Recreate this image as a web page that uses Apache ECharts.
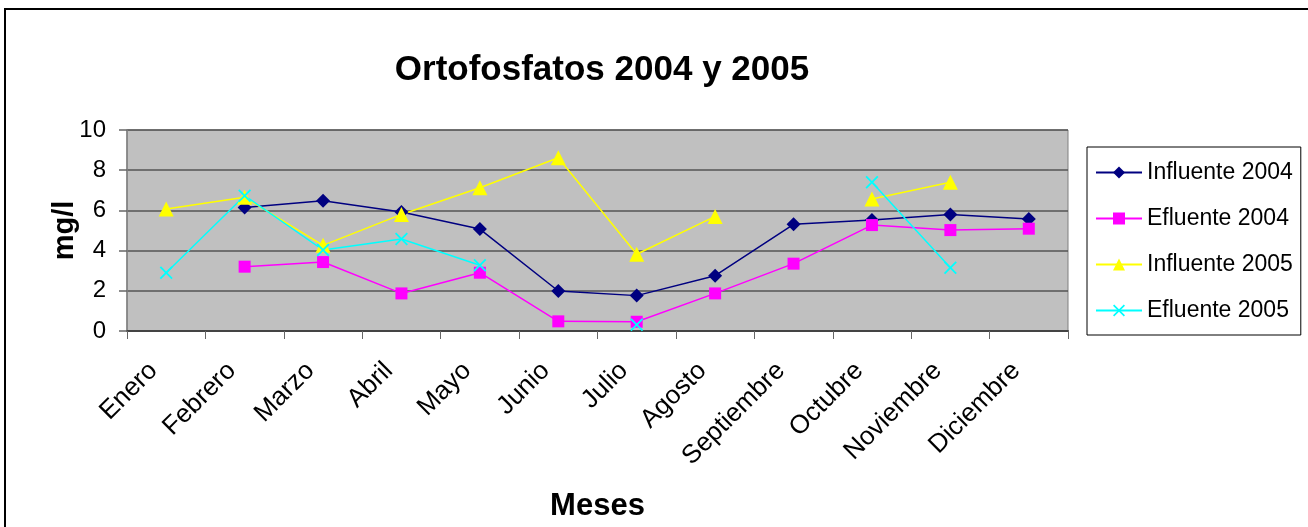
<!DOCTYPE html>
<html>
<head>
<meta charset="utf-8">
<script src="https://cdn.jsdelivr.net/npm/echarts@6/dist/echarts.min.js"></script>
<style>
  html, body { margin: 0; padding: 0; background: #fff; }
  #chart { width: 1308px; height: 527px; }
</style>
</head>
<body>
<div id="chart"></div>
<script>
const meses = ['Enero', 'Febrero', 'Marzo', 'Abril', 'Mayo', 'Junio', 'Julio', 'Agosto', 'Septiembre', 'Octubre', 'Noviembre', 'Diciembre']
const influente2004 = [null, 6.15, 6.48, 5.92, 5.07, 1.99, 1.76, 2.75, 5.31, 5.52, 5.8, 5.57]
const efluente2004 = [null, 3.2, 3.43, 1.87, 2.9, 0.48, 0.46, 1.87, 3.35, 5.27, 5.02, 5.09]
const influente2005 = [6.07, 6.65, 4.26, 5.8, 7.13, 8.62, 3.82, 5.7, null, 6.57, 7.4, null]
const efluente2005 = [2.9, 6.73, 4.03, 4.58, 3.27, null, 0.31, null, null, 7.4, 3.15, null]
const yTicks = [0, 2, 4, 6, 8, 10]

const font = 'Liberation Sans, Arial, Helvetica, sans-serif'
const crossPath = 'path://M0,1 L1,0 L5,4 L9,0 L10,1 L6,5 L10,9 L9,10 L5,6 L1,10 L0,9 L4,5 Z'

const chart = echarts.init(document.getElementById('chart'))

const makeSeries = (name, data, color, symbol, size) => ({
  name: name,
  type: 'line',
  data: data,
  color: color,
  symbol: symbol,
  symbolSize: size,
  showSymbol: true,
  showAllSymbol: true,
  connectNulls: false,
  animation: false,
  lineStyle: { width: 1.5, color: color },
  itemStyle: { color: color }
})

const option = {
  animation: false,
  backgroundColor: '#ffffff',
  textStyle: { fontFamily: font },
  title: {
    text: 'Ortofosfatos 2004 y 2005',
    left: 597,
    top: 48,
    textAlign: 'center',
    textStyle: { fontFamily: font, fontSize: 35, fontWeight: 'bold', color: '#000' }
  },
  graphic: [
    {
      type: 'rect',
      shape: { x: 5, y: 9, width: 1400, height: 600 },
      style: { fill: 'none', stroke: '#000', lineWidth: 2 },
      silent: true
    }
  ],
  legend: {
    orient: 'vertical',
    left: 1087,
    top: 147,
    padding: [14, 8, 13, 8],
    itemWidth: 46,
    itemHeight: 15,
    itemGap: 23,
    borderColor: '#000',
    borderWidth: 1,
    textStyle: { fontFamily: font, fontSize: 23, color: '#000' },
    data: ['Influente 2004', 'Efluente 2004', 'Influente 2005', 'Efluente 2005']
  },
  grid: {
    left: 127,
    right: 240,
    top: 130,
    bottom: 196,
    show: true,
    backgroundColor: '#C0C0C0',
    borderColor: '#808080',
    borderWidth: 1
  },
  xAxis: {
    type: 'category',
    data: meses,
    boundaryGap: true,
    name: 'Meses',
    nameLocation: 'middle',
    nameGap: 160,
    nameMoveOverlap: false,
    nameTextStyle: { fontFamily: font, fontSize: 31, fontWeight: 'bold', color: '#000' },
    axisLine: { lineStyle: { color: '#444', width: 2 } },
    axisTick: { show: true, interval: 0, length: 8, lineStyle: { color: '#666', width: 1 } },
    axisLabel: {
      interval: 0,
      rotate: 45,
      margin: 23,
      padding: [0, 18, 0, 0],
      fontFamily: font,
      fontSize: 26,
      color: '#000'
    },
    splitLine: { show: false }
  },
  yAxis: {
    type: 'value',
    min: yTicks[0],
    max: yTicks[yTicks.length - 1],
    interval: 2,
    name: 'mg/l',
    nameLocation: 'middle',
    nameRotate: 90,
    nameGap: 48,
    nameMoveOverlap: false,
    nameTextStyle: { fontFamily: font, fontSize: 29, fontWeight: 'bold', color: '#000' },
    axisLine: { show: true, lineStyle: { color: '#808080', width: 1.5 } },
    axisTick: { show: true, length: 8, lineStyle: { color: '#666', width: 1.5 } },
    axisLabel: { margin: 21, fontFamily: font, fontSize: 24, color: '#000' },
    splitLine: { show: true, lineStyle: { color: '#555', width: 1.5 } }
  },
  series: [
    makeSeries('Influente 2004', influente2004, '#000080', 'diamond', 14),
    makeSeries('Efluente 2004', efluente2004, '#FF00FF', 'rect', 12),
    makeSeries('Influente 2005', influente2005, '#FFFF00', 'triangle', 15),
    makeSeries('Efluente 2005', efluente2005, '#00FFFF', crossPath, 13)
  ]
}

chart.setOption(option)
</script>
</body>
</html>
